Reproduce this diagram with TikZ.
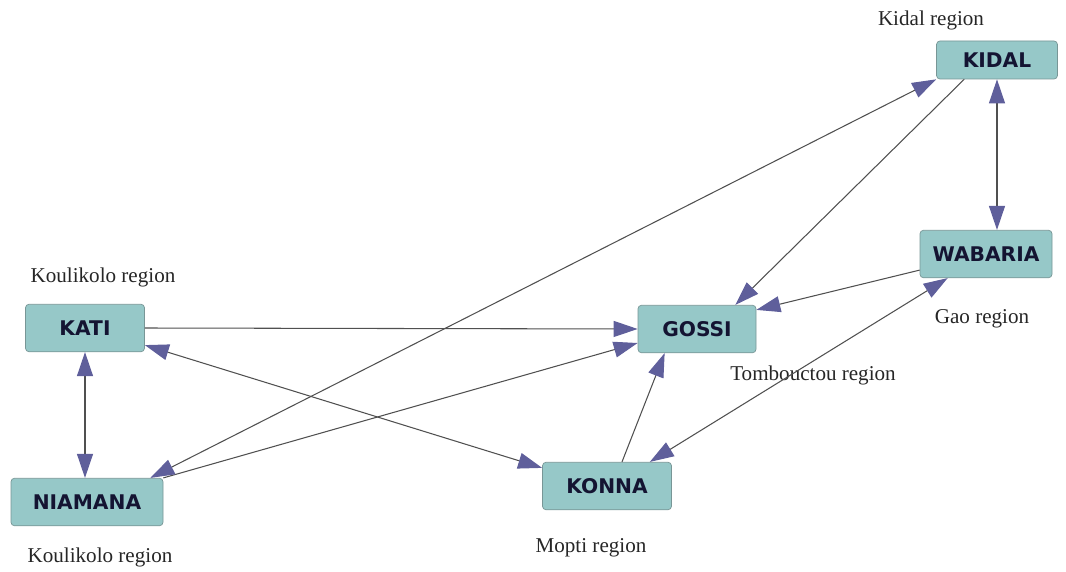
\documentclass[tikz,border=0pt]{standalone}
\usepackage{fontspec}
\setmainfont{Liberation Serif}
\newfontfamily\boxfont{DejaVu Sans}
\usepackage{tikz}
\usetikzlibrary{shapes,arrows.meta,positioning,calc}
\usepackage{xcolor}
\definecolor{boxteal}{RGB}{150,200,200}
\definecolor{boxedge}{RGB}{120,150,150}
\definecolor{tipblue}{RGB}{95,95,155}
\definecolor{linegray}{RGB}{80,80,80}
\definecolor{textnavy}{RGB}{20,20,50}

\begin{document}
\begin{tikzpicture}[
    town/.style={rectangle, draw=boxedge, fill=boxteal, minimum height=0.95cm, text centered, rounded corners=2pt, font=\boxfont\bfseries\fontsize{11.5}{13}\selectfont, text=textnavy},
    region/.style={font=\fontsize{12}{14}\selectfont, text=black!85},
    arrow/.style={draw=linegray, line width=0.6pt, >={Triangle[length=0.48cm,width=0.32cm,color=tipblue]}}
]
\useasboundingbox (0,0) rectangle (21.32,11.42);

% Towns
\node[town, minimum width=2.42cm, minimum height=0.76cm] (kidal) at (19.94,10.22) {KIDAL};
\node[town, minimum width=2.64cm] (wabaria) at (19.72,6.34) {WABARIA};
\node[town, minimum width=2.36cm] (gossi) at (13.94,4.84) {GOSSI};
\node[town, minimum width=2.38cm] (kati) at (1.70,4.86) {KATI};
\node[town, minimum width=3.04cm] (niamana) at (1.74,1.38) {NIAMANA};
\node[town, minimum width=2.58cm] (konna) at (12.14,1.70) {KONNA};

% Regions
\node[region] (kidalreg) at (18.62,11.02) {Kidal region};
\node[region] (katireg) at (2.06,5.88) {Koulikolo region};
\node[region] (gaoreg) at (19.64,5.04) {Gao region};
\node[region] (tombreg) at (16.26,3.92) {Tombouctou region};
\node[region] (niamreg) at (2.00,0.28) {Koulikolo region};
\node[region] (moptireg) at (11.82,0.46) {Mopti region};

% Connections
\draw[arrow, ->] (kati.east) -- (gossi.west);
\draw[arrow, <->] ([yshift=0.14cm]kati.south east) -- ([yshift=-0.12cm]konna.north west);
\draw[arrow, <->] (kati.south) -- (kati.south |- niamana.north);
\draw[arrow, ->] (niamana.north east) -- ([yshift=-0.28cm]gossi.west);
\draw[arrow, <->] ([xshift=-0.26cm]niamana.north east) -- (kidal.south west);
\draw[arrow, ->] ([xshift=0.56cm]kidal.south west) -- ([xshift=-0.42cm]gossi.north east);
\draw[arrow, <->] (kidal.south) -- (kidal.south |- wabaria.north);
\draw[arrow, ->] ([yshift=0.16cm]wabaria.south west) -- ([yshift=-0.1cm]gossi.north east);
\draw[arrow, ->] ([xshift=0.3cm]konna.north) -- ([xshift=0.54cm]gossi.south west);
\draw[arrow, <->] ([xshift=-0.44cm]konna.north east) -- ([xshift=0.56cm]wabaria.south west);

\end{tikzpicture}
\end{document}
